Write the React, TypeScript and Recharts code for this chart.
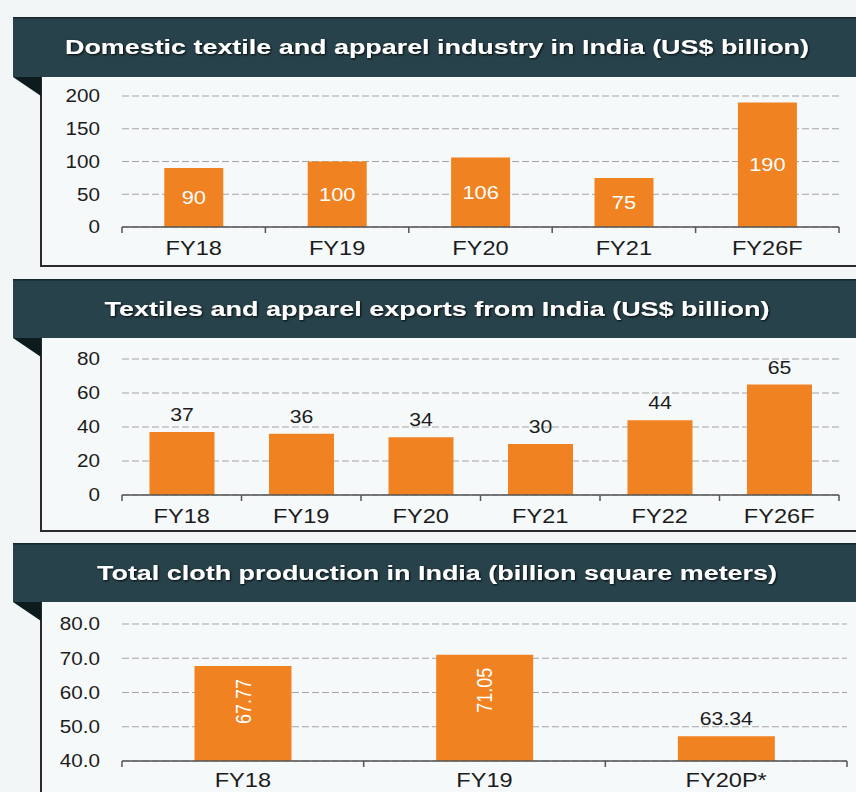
import React from 'react';
import { BarChart, Bar, XAxis, YAxis, CartesianGrid, LabelList } from 'recharts';

// domestic market
const domesticYears = ['FY18', 'FY19', 'FY20', 'FY21', 'FY26F'];
const domesticValues = [90, 100, 106, 75, 190];
const domesticTicks = [0, 50, 100, 150, 200];

// exports
const exportYears = ['FY18', 'FY19', 'FY20', 'FY21', 'FY22', 'FY26F'];
const exportValues = [37, 36, 34, 30, 44, 65];
const exportTicks = [0, 20, 40, 60, 80];

// cloth production (last bar is drawn shorter than its printed label in the source)
const clothYears = ['FY18', 'FY19', 'FY20P*'];
const clothBarValues = [67.77, 71.05, 47.2];
const clothLabels = ['67.77', '71.05', '63.34'];
const clothTicks = [40, 50, 60, 70, 80];

const W = 856;
const PLOT_LEFT = 122;
const SX = 1.18; // source image is stretched horizontally
const FONT = '"Liberation Sans", Arial, sans-serif';
const ORANGE = '#f08221';
const INK = '#1c1c1c';
const HEADER = '#27424a';
const FOLD = '#0d1b1f';
const PAGE_BG = '#f2f6f7';
const BOX_BG = '#f6f9fa';
const GRID = '#a3a3a3';
const AXIS = '#555';
const TITLE_CENTER = 437;

function YTick({ x, y, payload, digits }: any) {
  return (
    <g transform={`translate(${x},${y}) scale(${SX},1)`}>
      <text x={0} y={0} dy="0.36em" textAnchor="end" fontSize={17.5} fill={INK} fontFamily={FONT}>
        {Number(payload.value).toFixed(digits)}
      </text>
    </g>
  );
}

function makeXTick(band: number, gap: number, count: number) {
  return (props: any) => {
    const { x, y, payload, index } = props;
    const axisY = y - gap;
    return (
      <g>
        <line x1={x - band / 2} x2={x - band / 2} y1={axisY} y2={axisY + 6} stroke={AXIS} strokeWidth={1.5} />
        {index === count - 1 && (
          <line x1={x + band / 2} x2={x + band / 2} y1={axisY} y2={axisY + 6} stroke={AXIS} strokeWidth={1.5} />
        )}
        <g transform={`translate(${x},${y}) scale(${SX},1)`}>
          <text x={0} y={0} dy="0.71em" textAnchor="middle" fontSize={20} fill={INK} fontFamily={FONT}>
            {payload.value}
          </text>
        </g>
      </g>
    );
  };
}

function getBox(props: any) {
  const vb = props.viewBox || {};
  return {
    x: props.x ?? vb.x,
    y: props.y ?? vb.y,
    width: props.width ?? vb.width,
    height: props.height ?? vb.height,
  };
}

function CenterLabel(props: any) {
  const { x, y, width, height } = getBox(props);
  return (
    <g transform={`translate(${x + width / 2},${y + height / 2}) scale(${SX},1)`}>
      <text x={0} y={0} dy="0.36em" textAnchor="middle" fontSize={18.5} fill="#fff" fontFamily={FONT}>
        {props.value}
      </text>
    </g>
  );
}

function TopLabel(props: any) {
  const { x, y, width } = getBox(props);
  return (
    <g transform={`translate(${x + width / 2},${y - 11}) scale(${SX},1)`}>
      <text x={0} y={0} textAnchor="middle" fontSize={18} fill={INK} fontFamily={FONT}>
        {props.value}
      </text>
    </g>
  );
}

function ClothLabel(props: any) {
  const { x, y, width, height } = getBox(props);
  if (height > 60) {
    return (
      <g transform={`translate(${x + width / 2},${y + 13}) scale(${SX},1) rotate(-90)`}>
        <text x={0} y={0} dy="0.36em" textAnchor="end" fontSize={18} fill="#fff" fontFamily={FONT}>
          {props.value}
        </text>
      </g>
    );
  }
  return <TopLabel {...props} />;
}

interface PanelProps {
  title: string;
  titleWidth: number;
  headerTop: number;
  headerBottom: number;
  boxBottom: number;
  children: React.ReactNode;
}

function Panel({ title, titleWidth, headerTop, headerBottom, boxBottom, children }: PanelProps) {
  const h = headerBottom - headerTop;
  return (
    <>
      <div
        style={{
          position: 'absolute',
          left: 40,
          top: headerBottom,
          width: W - 40,
          height: boxBottom - headerBottom,
          background: BOX_BG,
          borderLeft: '2px solid #2b2b2b',
          borderBottom: '2px solid #2b2b2b',
          boxSizing: 'border-box',
        }}
      />
      {children}
      <svg style={{ position: 'absolute', left: 13, top: headerTop }} width={W - 13} height={h}>
        <defs>
          <filter id={`sh${headerTop}`} x="-5%" y="-30%" width="110%" height="160%">
            <feDropShadow dx="1" dy="1" stdDeviation="0.8" floodColor="#000" floodOpacity="0.9" />
          </filter>
        </defs>
        <rect x={0} y={0} width={W - 13} height={h} fill={HEADER} />
        <rect x={0} y={0} width={W - 13} height={1.5} fill="#16262b" />
        <text
          x={TITLE_CENTER - 13}
          y={h / 2}
          dy="0.36em"
          textAnchor="middle"
          textLength={titleWidth}
          lengthAdjust="spacingAndGlyphs"
          fill="#fff"
          fontFamily={FONT}
          fontWeight={700}
          fontSize={20}
          filter={`url(#sh${headerTop})`}
        >
          {title}
        </text>
      </svg>
      <svg style={{ position: 'absolute', left: 13, top: headerBottom, overflow: 'visible' }} width={28} height={20}>
        <polygon points="0,0 28,0 28,19" fill={FOLD} />
      </svg>
    </>
  );
}

const domesticData = domesticYears.map((year, i) => ({ year, value: domesticValues[i] }));
const exportData = exportYears.map((year, i) => ({ year, value: exportValues[i] }));
const clothData = clothYears.map((year, i) => ({ year, value: clothBarValues[i], label: clothLabels[i] }));

function DomesticChart() {
  const right = 839;
  const band = (right - PLOT_LEFT) / domesticData.length;
  return (
    <div style={{ position: 'absolute', left: 0, top: 77 }}>
      <BarChart
        width={W}
        height={190}
        data={domesticData}
        margin={{ top: 19, right: W - right, bottom: 0, left: 0 }}
        barCategoryGap="29.5%"
      >
        <CartesianGrid vertical={false} stroke={GRID} strokeDasharray="7 3" />
        <XAxis
          dataKey="year"
          height={40}
          interval={0}
          tickSize={0}
          tickMargin={14}
          axisLine={{ stroke: AXIS, strokeWidth: 1.5 }}
          tick={makeXTick(band, 14, domesticData.length)}
        />
        <YAxis
          width={PLOT_LEFT}
          domain={[0, 200]}
          ticks={domesticTicks}
          axisLine={false}
          tickSize={0}
          tickMargin={22}
          tick={<YTick digits={0} />}
        />
        <Bar dataKey="value" fill={ORANGE} isAnimationActive={false}>
          <LabelList dataKey="value" content={<CenterLabel />} />
        </Bar>
      </BarChart>
    </div>
  );
}

function ExportChart() {
  const right = 839;
  const band = (right - PLOT_LEFT) / exportData.length;
  return (
    <div style={{ position: 'absolute', left: 0, top: 338 }}>
      <BarChart
        width={W}
        height={194}
        data={exportData}
        margin={{ top: 21, right: W - right, bottom: 0, left: 0 }}
        barCategoryGap="23%"
      >
        <CartesianGrid vertical={false} stroke={GRID} strokeDasharray="7 3" />
        <XAxis
          dataKey="year"
          height={37}
          interval={0}
          tickSize={0}
          tickMargin={14}
          axisLine={{ stroke: AXIS, strokeWidth: 1.5 }}
          tick={makeXTick(band, 14, exportData.length)}
        />
        <YAxis
          width={PLOT_LEFT}
          domain={[0, 80]}
          ticks={exportTicks}
          axisLine={false}
          tickSize={0}
          tickMargin={22}
          tick={<YTick digits={0} />}
        />
        <Bar dataKey="value" fill={ORANGE} isAnimationActive={false}>
          <LabelList dataKey="value" content={<TopLabel />} />
        </Bar>
      </BarChart>
    </div>
  );
}

function ClothChart() {
  const right = 847;
  const band = (right - PLOT_LEFT) / clothData.length;
  return (
    <div style={{ position: 'absolute', left: 0, top: 602 }}>
      <BarChart
        width={W}
        height={190}
        data={clothData}
        margin={{ top: 22, right: W - right, bottom: 0, left: 0 }}
        barCategoryGap="30%"
      >
        <CartesianGrid vertical={false} stroke={GRID} strokeDasharray="7 3" />
        <XAxis
          dataKey="year"
          height={31}
          interval={0}
          tickSize={0}
          tickMargin={12}
          axisLine={{ stroke: AXIS, strokeWidth: 1.5 }}
          tick={makeXTick(band, 12, clothData.length)}
        />
        <YAxis
          width={PLOT_LEFT}
          domain={[40, 80]}
          ticks={clothTicks}
          axisLine={false}
          tickSize={0}
          tickMargin={22}
          tick={<YTick digits={1} />}
        />
        <Bar dataKey="value" fill={ORANGE} isAnimationActive={false}>
          <LabelList dataKey="label" content={<ClothLabel />} />
        </Bar>
      </BarChart>
    </div>
  );
}

export default function App() {
  return (
    <div
      style={{
        position: 'absolute',
        left: 0,
        top: 0,
        width: W,
        height: 792,
        overflow: 'hidden',
        background: PAGE_BG,
      }}
    >
      <Panel
        title="Domestic textile and apparel industry in India (US$ billion)"
        titleWidth={744}
        headerTop={17}
        headerBottom={77}
        boxBottom={267}
      >
        <DomesticChart />
      </Panel>
      <Panel
        title="Textiles and apparel exports from India (US$ billion)"
        titleWidth={665}
        headerTop={279}
        headerBottom={338}
        boxBottom={532}
      >
        <ExportChart />
      </Panel>
      <Panel
        title="Total cloth production in India (billion square meters)"
        titleWidth={680}
        headerTop={543}
        headerBottom={602}
        boxBottom={820}
      >
        <ClothChart />
      </Panel>
    </div>
  );
}
